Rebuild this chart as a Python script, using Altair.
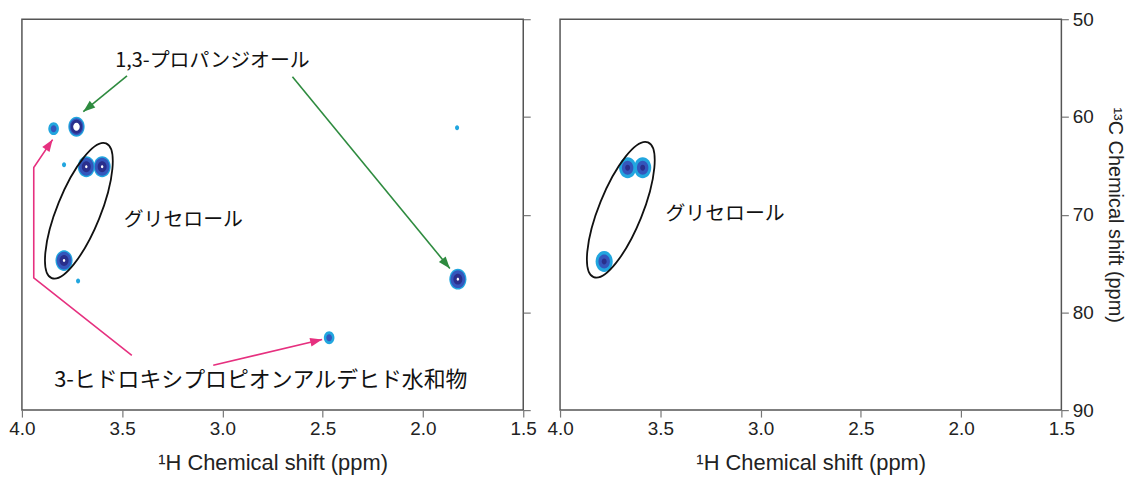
import math
import altair as alt
import pandas as pd

# ---------------- data (ppm) ----------------
# left spectrum: cross peaks (1H ppm, 13C ppm, intensity class)
left_peak_h = [3.842, 3.728, 3.679, 3.600, 3.790, 1.826, 2.468, 1.830, 3.790, 3.720]
left_peak_c = [61.2, 61.0, 65.1, 65.1, 74.7, 76.6, 82.6, 61.1, 64.9, 76.8]
left_peak_level = ["w", "vs", "s", "s", "s", "s", "w", "vw", "vw", "vw"]

# right spectrum: cross peaks
right_peak_h = [3.663, 3.588, 3.780]
right_peak_c = [65.2, 65.2, 74.8]
right_peak_level = ["m", "m", "m"]

# glycerol ellipses (centre)
left_ell_h, left_ell_c = [3.716], [69.6]
right_ell_h, right_ell_c = [3.697], [69.5]

# annotation arrows (left panel), points in ppm
arrow_id = ["p1", "p1", "p2", "p2", "h1", "h1", "h1", "h1", "h2", "h2"]
arrow_kind = ["prop", "prop", "prop", "prop", "hpa", "hpa", "hpa", "hpa", "hpa", "hpa"]
arrow_h = [3.476, 3.694, 2.651, 1.866, 3.452, 3.941, 3.941, 3.847, 3.046, 2.503]
arrow_c = [55.80, 59.47, 55.90, 75.50, 84.40, 76.46, 65.17, 62.32, 85.42, 82.77]

# labels
left_text = ["1,3-プロパンジオール", "グリセロール"]
left_text_h = [3.050, 3.195]
left_text_c = [54.27, 70.56]
long_text = ["3-ヒドロキシプロピオンアルデヒド水和物"]
long_text_h = [2.809]
long_text_c = [86.95]
right_text = ["グリセロール"]
right_text_h = [3.177]
right_text_c = [69.95]

x_ticks = [4.0, 3.5, 3.0, 2.5, 2.0, 1.5]
y_ticks = [50, 60, 70, 80, 90]
x_title = "¹H Chemical shift (ppm)"
y_title = "¹³C Chemical shift (ppm)"

# ---------------- styling ----------------
W, H = 504, 393
JP_FONT = "Noto Sans CJK JP"


def ellipse_path(w, h=1.0):
    k = 0.5523
    return (f"M0,{-h}C{k*w},{-h},{w},{-k*h},{w},0"
            f"C{w},{k*h},{k*w},{h},0,{h}"
            f"C{-k*w},{h},{-w},{k*h},{-w},0"
            f"C{-w},{-k*h},{-k*w},{-h},0,{-h}Z")


PEAK_PATH = ellipse_path(0.82)
RING_PATH = ellipse_path(0.30)
HEAD_PATH = "M0,0L0.55,1.5L-0.55,1.5Z"

x_scale = alt.Scale(domain=[1.5, 4.0], reverse=True, nice=False, zero=False)
y_scale = alt.Scale(domain=[50, 90], reverse=True, nice=False, zero=False)

x_axis = alt.Axis(values=x_ticks, format=".1f", title=x_title, labelPadding=3,
                  titlePadding=14, labelFlush=False, titleFontSize=22)


def enc_x():
    return alt.X("h:Q", scale=x_scale, axis=x_axis)


def enc_y(show_labels):
    if show_labels:
        ax = alt.Axis(orient="right", values=y_ticks, title=y_title, labelPadding=4,
                      titlePadding=11, labelFlush=False, titleFontSize=20)
    else:
        ax = alt.Axis(orient="right", values=y_ticks, labels=False, title=None)
    return alt.Y("c:Q", scale=y_scale, axis=ax)


# peak rendering: (colour, {level: full height in px})
layer_specs = [
    ("#22a6df", {"vs": 20, "s": 21, "m": 21, "w": 13, "vw": 5}),
    ("#3456bc", {"vs": 17, "s": 18, "m": 14, "w": 7}),
    ("#2a2f8c", {"vs": 14, "s": 11, "m": 6}),
    ("#ffffff", {"vs": 8, "s": 3}),
]


def panel(peaks, ell, texts, long_texts, arrows, show_labels):
    ex, ey = enc_x(), enc_y(show_labels)
    layers = []
    present = set(peaks["level"])
    for color, sizes in layer_specs:
        for lv, px in sizes.items():
            if lv not in present:
                continue
            layers.append(
                alt.Chart(peaks).transform_filter(alt.datum.level == lv)
                .mark_point(shape=PEAK_PATH, filled=True, fill=color, strokeWidth=0,
                            size=px * px, opacity=1)
                .encode(x=ex, y=ey)
            )
    layers.append(
        alt.Chart(ell).mark_point(shape=RING_PATH, filled=False, stroke="#111111", strokeWidth=1.8,
                                  size=146 * 146, angle=22, opacity=1)
        .encode(x=ex, y=ey)
    )
    if arrows is not None:
        cscale = alt.Scale(domain=["prop", "hpa"], range=["#2e8b3f", "#e6307f"])
        layers.append(
            alt.Chart(arrows).mark_line(strokeWidth=1.6)
            .encode(x=ex, y=ey, detail="id:N", order="seq:Q",
                    color=alt.Color("kind:N", scale=cscale, legend=None))
        )
        heads = arrows.groupby("id").tail(1).copy()
        angs = []
        for _, row in heads.iterrows():
            seg = arrows[arrows.id == row.id]
            p0, p1 = seg.iloc[-2], seg.iloc[-1]
            dx = -(p1.h - p0.h) * W / 2.5
            dy = (p1.c - p0.c) * H / 40.0
            angs.append(math.degrees(math.atan2(dx, -dy)) % 360)
        heads["ang"] = angs
        layers.append(
            alt.Chart(heads).mark_point(shape=HEAD_PATH, filled=True, size=256, opacity=1,
                                        strokeWidth=0)
            .encode(x=ex, y=ey, angle=alt.Angle("ang:Q", scale=None),
                    fill=alt.Fill("kind:N", scale=cscale, legend=None))
        )
    layers.append(
        alt.Chart(texts).mark_text(font=JP_FONT, fontSize=20, color="#111111", align="center",
                                   baseline="middle")
        .encode(x=ex, y=ey, text="label:N")
    )
    if long_texts is not None:
        layers.append(
            alt.Chart(long_texts).mark_text(font=JP_FONT, fontSize=22, color="#111111",
                                            align="center", baseline="middle")
            .encode(x=ex, y=ey, text="label:N")
        )
    return alt.layer(*layers).properties(width=W, height=H)


left_peaks = pd.DataFrame({"h": left_peak_h, "c": left_peak_c, "level": left_peak_level})
right_peaks = pd.DataFrame({"h": right_peak_h, "c": right_peak_c, "level": right_peak_level})
left_ell = pd.DataFrame({"h": left_ell_h, "c": left_ell_c})
right_ell = pd.DataFrame({"h": right_ell_h, "c": right_ell_c})
arrows = pd.DataFrame({"id": arrow_id, "kind": arrow_kind, "h": arrow_h, "c": arrow_c})
arrows["seq"] = arrows.groupby("id").cumcount()
left_texts = pd.DataFrame({"label": left_text, "h": left_text_h, "c": left_text_c})
long_texts = pd.DataFrame({"label": long_text, "h": long_text_h, "c": long_text_c})
right_texts = pd.DataFrame({"label": right_text, "h": right_text_h, "c": right_text_c})

left = panel(left_peaks, left_ell, left_texts, long_texts, arrows, False)
right = panel(right_peaks, right_ell, right_texts, None, None, True)

chart = (
    alt.hconcat(left, right, spacing=9)
    .properties(padding={"left": 0, "top": 0, "right": 7, "bottom": 0})
    .configure_view(stroke="#555555", strokeWidth=1.5)
    .configure_axis(grid=False, domain=False, tickColor="#777777", tickSize=7, tickWidth=1.2,
                    labelFont="Liberation Sans", labelFontSize=19, labelColor="#222222",
                    titleFont="Liberation Sans", titleFontSize=21, titleFontWeight="normal",
                    titleColor="#222222")
)

chart.save("out.html", embed_options={"renderer": "svg", "actions": False})
